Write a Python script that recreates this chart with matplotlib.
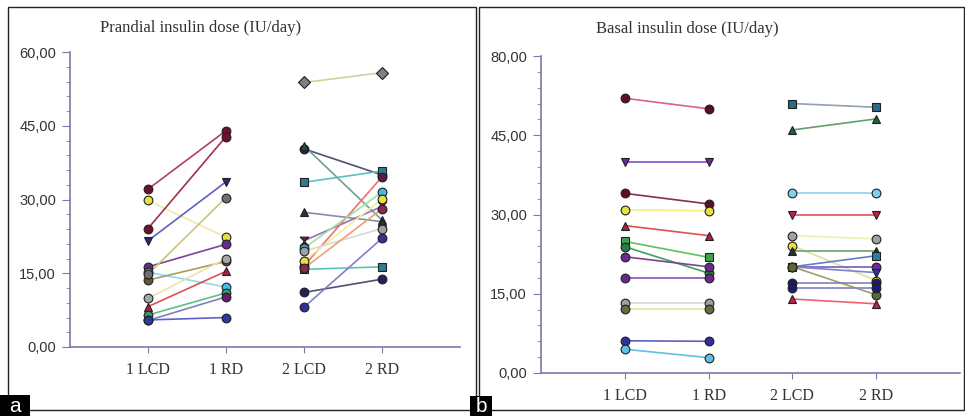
import matplotlib
matplotlib.use("Agg")
import matplotlib.pyplot as plt
from matplotlib.patches import Rectangle
from matplotlib.ticker import MultipleLocator

# ---------------- data ----------------
categories = ["1 LCD", "1 RD", "2 LCD", "2 RD"]

# Prandial insulin dose (IU/day) - group 1 (LCD -> RD)
prandial_1_lcd = [32.1, 29.8, 24.1, 21.6, 16.3, 15.2, 13.6, 14.8, 9.9, 8.2, 6.5, 5.4, 5.5]
prandial_1_rd = [44.0, 22.3, 42.8, 33.6, 20.9, 12.2, 17.4, 30.4, 18.0, 15.4, 11.0, 10.2, 6.0]
# Prandial insulin dose (IU/day) - group 2
prandial_2_lcd = [53.8, 40.3, 40.9, 33.5, 27.4, 21.6, 16.5, 20.1, 17.5, 19.5, 15.8, 11.1, 8.1, 16.0]
prandial_2_rd = [55.8, 35.0, 25.8, 35.8, 25.5, 28.6, 34.6, 31.5, 30.1, 24.1, 16.3, 13.8, 22.1, 28.1]

# Basal insulin dose (IU/day) - group 1
basal_1_lcd = [52.0, 40.0, 34.0, 30.9, 27.9, 24.9, 23.9, 22.0, 18.0, 13.2, 12.1, 6.1, 4.5]
basal_1_rd = [50.0, 40.0, 32.0, 30.7, 26.0, 21.9, 18.9, 20.1, 18.0, 13.2, 12.1, 6.0, 2.9]
# Basal insulin dose (IU/day) - group 2
basal_2_lcd = [51.0, 46.0, 34.0, 30.0, 26.0, 24.1, 23.0, 20.1, 20.1, 20.1, 20.1, 17.0, 16.0, 14.0]
basal_2_rd = [50.3, 48.1, 34.0, 30.0, 25.4, 17.5, 23.0, 22.2, 20.1, 19.0, 14.8, 17.0, 16.0, 13.1]

prandial_ticks = [0, 15, 30, 45, 60]
prandial_ticklabels = ["0,00", "15,00", "30,00", "45,00", "60,00"]
basal_ticks = [0, 15, 30, 45, 60]
basal_ticklabels = ["0,00", "15,00", "30,00", "45,00", "80,00"]

# ---------------- styles ----------------
HG = [(-1, 1), (1, 1), (-1, -1), (1, -1), (-1, 1)]  # hourglass marker

p1_style = [  # (marker, face, line)
    ("o", "#6e1030", "#b04060"),
    ("o", "#e8e040", "#f0e8a8"),
    ("o", "#6e1030", "#a03050"),
    ("v", "#2a2a7a", "#6060c0"),
    ("o", "#6a2a8a", "#8040a0"),
    ("o", "#40c0e8", "#90d8f0"),
    ("o", "#5a5a30", "#a0a060"),
    ("o", "#707070", "#c8c870"),
    ("o", "#a8a8a8", "#f0e0a8"),
    ("^", "#b02040", "#e05050"),
    ("o", "#30a070", "#60c080"),
    ("o", "#6a1a6a", "#8080c0"),
    ("o", "#2a3aa0", "#6060d0"),
]
p2_style = [
    ("D", "#808080", "#d0d0a0"),
    ("o", "#23235a", "#505070"),
    ("^", "#205040", "#70a090"),
    ("s", "#2a7f8f", "#60c0c0"),
    ("^", "#303040", "#8090a0"),
    (HG, "#7a1a4a", "#9070c0"),
    ("o", "#5a1a4a", "#f07070"),
    ("o", "#40b8e8", "#a0e0a0"),
    ("o", "#e8e040", "#f0f0a0"),
    ("o", "#a0a0a0", "#d8d8d8"),
    ("s", "#2a7f8f", "#60c0c0"),
    ("o", "#23235a", "#505070"),
    ("o", "#3030a0", "#8080c8"),
    ("o", "#8a2a4a", "#f0a070"),
]
b1_style = [
    ("o", "#5a1020", "#e06080"),
    ("v", "#6a2a9a", "#8050c0"),
    ("o", "#5a1020", "#803050"),
    ("o", "#e8e040", "#f0f080"),
    ("^", "#b02040", "#e05050"),
    ("s", "#40a050", "#60c060"),
    ("o", "#2a7a4a", "#40a060"),
    ("o", "#6a2a8a", "#804090"),
    ("o", "#6a2a8a", "#9050b0"),
    ("o", "#a0a0a0", "#d8d8d8"),
    ("o", "#6a6a40", "#e8e0a0"),
    ("o", "#3030a0", "#6060c0"),
    ("o", "#60c0e8", "#60c0e0"),
]
b2_style = [
    ("s", "#2a6a8a", "#90a0b0"),
    ("^", "#206040", "#60a070"),
    ("o", "#80d0f0", "#90d0f0"),
    ("v", "#c02050", "#e05060"),
    ("o", "#a0a0a0", "#f0f0b0"),
    ("o", "#e8e040", "#e0e0a0"),
    ("^", "#203040", "#70a070"),
    ("s", "#2a7f9f", "#6080c0"),
    ("o", "#6a2a9a", "#7060c0"),
    ("v", "#3030b0", "#8080d0"),
    ("o", "#5a6a30", "#a0a060"),
    ("o", "#1a1a70", "#8080c0"),
    ("o", "#1a1a70", "#8080c0"),
    ("^", "#c02050", "#f06070"),
]

W, H = 965, 416
fig = plt.figure(figsize=(W / 100, H / 100), dpi=100)

SERIF = ["Liberation Serif", "DejaVu Serif"]
SANS = ["Liberation Sans", "DejaVu Sans"]
AXC = "#7a7aa8"


def make_axes(rect, title, title_xy, lcd1, rd1, st1, lcd2, rd2, st2, ticks, ticklabels):
    ax = fig.add_axes(rect)
    for lcd, rd, st, (xa, xb) in ((lcd1, rd1, st1, (1, 2)), (lcd2, rd2, st2, (3, 4))):
        for a, b, (m, fc, lc) in zip(lcd, rd, st):
            ax.plot([xa, xb], [a, b], color=lc, lw=1.2, zorder=2)
            ax.plot([xa, xb], [a, b], ls="none", marker=m, ms=6.3, mfc=fc,
                    mec="#202020", mew=0.8, zorder=3)
    ax.set_xlim(0, 5)
    ax.set_ylim(0, 60)
    ax.set_xticks([1, 2, 3, 4])
    ax.set_xticklabels(categories, fontfamily=SERIF, fontsize=11.5, color="#333333")
    ax.set_yticks(ticks)
    ax.set_yticklabels(ticklabels, fontfamily=SANS, fontsize=10.5, color="#333333")
    ax.yaxis.set_minor_locator(MultipleLocator(3))
    for s in ("top", "right"):
        ax.spines[s].set_visible(False)
    for s in ("left", "bottom"):
        ax.spines[s].set_color(AXC)
        ax.spines[s].set_linewidth(1.2)
    ax.tick_params(axis="y", which="major", length=6, color=AXC, pad=4)
    ax.tick_params(axis="y", which="minor", length=3, color=AXC)
    ax.tick_params(axis="x", which="major", length=4, color=AXC, pad=7)
    ax.set_facecolor("none")
    fig.text(title_xy[0] / W, 1 - title_xy[1] / H, title, ha="center", va="center",
             fontfamily=SERIF, fontsize=12, color="#333333")
    return ax


make_axes([70 / W, 1 - 347 / H, 390 / W, 295 / H], "Prandial insulin dose (IU/day)", (201, 28),
          prandial_1_lcd, prandial_1_rd, p1_style, prandial_2_lcd, prandial_2_rd, p2_style,
          prandial_ticks, prandial_ticklabels)
make_axes([541 / W, 1 - 373 / H, 419 / W, 317 / H], "Basal insulin dose (IU/day)", (687, 29),
          basal_1_lcd, basal_1_rd, b1_style, basal_2_lcd, basal_2_rd, b2_style,
          basal_ticks, basal_ticklabels)

# panel frames
def px_rect(x0, y0, x1, y1, **kw):
    fig.add_artist(Rectangle((x0 / W, 1 - y1 / H), (x1 - x0) / W, (y1 - y0) / H,
                             transform=fig.transFigure, **kw))

px_rect(8, 7, 476, 410, fill=False, ec="#222222", lw=1.0)
px_rect(479, 7, 964, 410, fill=False, ec="#222222", lw=1.0)
# label boxes
px_rect(0, 395, 30, 416, fc="black", ec="none")
px_rect(470, 396, 492, 416, fc="black", ec="none")
fig.text(15 / W, 1 - 406 / H, "a", color="white", fontsize=15, ha="center", va="center",
         fontfamily=SANS)
fig.text(481 / W, 1 - 406 / H, "b", color="white", fontsize=15, ha="center", va="center",
         fontfamily=SANS)

fig.savefig("out.png", dpi=100, facecolor="white")
